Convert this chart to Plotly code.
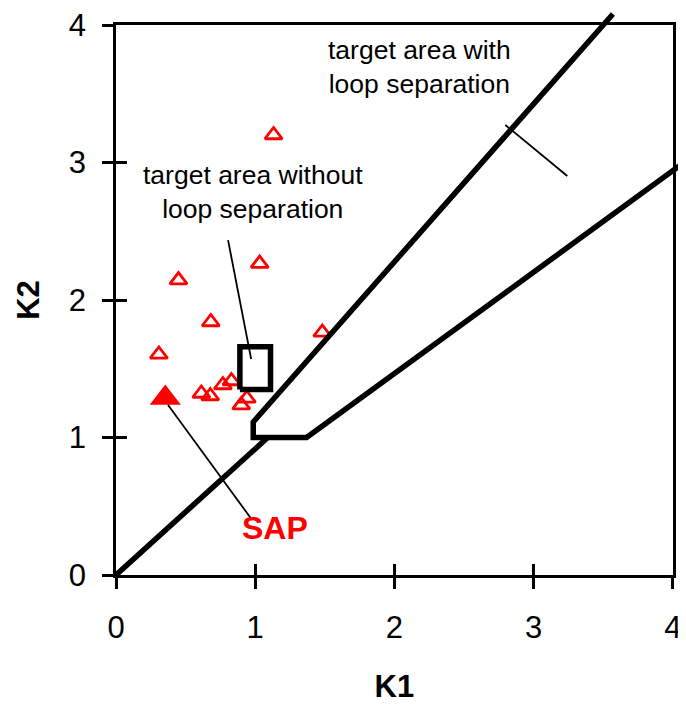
import plotly.graph_objects as go

# ---- data ----
k1_points = [0.449, 1.032, 0.681, 0.308, 1.482, 0.613, 0.677, 0.768, 0.829, 0.940, 0.900, 1.132]
k2_points = [2.145, 2.265, 1.840, 1.604, 1.764, 1.320, 1.302, 1.382, 1.411, 1.284, 1.236, 3.200]

sap_k1 = [0.354]
sap_k2 = [1.287]

# boundary of the target area with loop separation
wedge_k1 = [3.57, 0.986, 0.986, 1.369, 4.095]
wedge_k2 = [4.08, 1.113, 1.000, 1.000, 3.010]

# diagonal from the origin
diag_k1 = [0.0, 1.09]
diag_k2 = [0.0, 1.0]

# target area without loop separation
rect_k1 = [0.89, 1.11, 1.11, 0.89, 0.89]
rect_k2 = [1.35, 1.35, 1.66, 1.66, 1.35]

# leader lines
lead_with_k1 = [2.797, 3.242]
lead_with_k2 = [3.273, 2.902]
lead_without_k1 = [0.805, 0.971]
lead_without_k2 = [2.436, 1.570]
lead_sap_k1 = [0.374, 0.978]
lead_sap_k2 = [1.236, 0.400]

tick_vals = [0, 1, 2, 3, 4]
tick_text = ["0", "1", "2", "3", "4"]

# ---- geometry (page body has an 8 px margin) ----
W, H = 678, 696
ML, MR, MT, MB = 108, 0, 0, 129
plot_w = W - ML - MR
plot_h = H - MT - MB
x4_px = 664.8 - ML          # pixel of K1=4 inside paper
y4_px = 567 - 17            # pixel height of K2=4
dx = x4_px / plot_w
dy = y4_px / plot_h
x2_max = 4 / dx
y2_max = 4 / dy

FONT = "Liberation Sans, Arial, Helvetica, sans-serif"

fig = go.Figure()

thick = dict(color="black", width=5.5)
thin = dict(color="black", width=1.8)

fig.add_trace(go.Scatter(x=diag_k1, y=diag_k2, mode="lines", line=thick,
                         xaxis="x2", yaxis="y2", hoverinfo="skip", showlegend=False))
fig.add_trace(go.Scatter(x=wedge_k1, y=wedge_k2, mode="lines", line=thick,
                         xaxis="x2", yaxis="y2", hoverinfo="skip", showlegend=False))
fig.add_trace(go.Scatter(x=rect_k1, y=rect_k2, mode="lines", line=thick,
                         xaxis="x2", yaxis="y2", hoverinfo="skip", showlegend=False))
for lx, ly in [(lead_with_k1, lead_with_k2), (lead_without_k1, lead_without_k2),
               (lead_sap_k1, lead_sap_k2)]:
    fig.add_trace(go.Scatter(x=lx, y=ly, mode="lines", line=thin,
                             xaxis="x2", yaxis="y2", hoverinfo="skip", showlegend=False))

fig.add_trace(go.Scatter(x=k1_points, y=k2_points, mode="markers",
                         marker=dict(symbol="triangle-up-open", size=15, color="red",
                                     line=dict(color="red", width=2.8)),
                         xaxis="x3", yaxis="y3", showlegend=False))
fig.add_trace(go.Scatter(x=sap_k1, y=sap_k2, mode="markers",
                         marker=dict(symbol="triangle-up", size=27, color="red",
                                     line=dict(width=0)),
                         xaxis="x3", yaxis="y3", showlegend=False))

axis_common = dict(range=[0, 4], tickvals=tick_vals, ticktext=tick_text,
                   showgrid=False, zeroline=False, tickwidth=2.5, tickcolor="black",
                   ticklen=11)

fig.update_layout(
    width=W, height=H,
    margin=dict(l=ML, r=MR, t=MT, b=MB, pad=0),
    paper_bgcolor="white", plot_bgcolor="rgba(0,0,0,0)",
    font=dict(family=FONT, color="black"),
    xaxis=dict(**axis_common, domain=[0, dx], anchor="y", ticks="outside",
               showline=True, linecolor="black", linewidth=2.5, mirror=True,
               tickfont=dict(size=31, family=FONT), ticklabelstandoff=12,
               ticklabeloverflow="allow",
               title=dict(text="K1", font=dict(size=31, family=FONT, weight="bold"),
                          standoff=39),
               automargin=False),
    yaxis=dict(**axis_common, domain=[0, dy], anchor="x", ticks="outside",
               showline=True, linecolor="black", linewidth=2.5, mirror=True,
               tickfont=dict(size=31, family=FONT), ticklabelstandoff=10,
               ticklabeloverflow="allow",
               title=dict(text="K2", font=dict(size=31, family=FONT, weight="bold"),
                          standoff=20),
               automargin=False),
    xaxis3=dict(**axis_common, overlaying="x", anchor="y", side="bottom",
                ticks="inside", showticklabels=False, showline=False),
    yaxis3=dict(**axis_common, overlaying="y", anchor="x", side="left",
                ticks="inside", showticklabels=False, showline=False),
    xaxis2=dict(range=[0, x2_max], domain=[0, 1], anchor="y2", visible=False,
                showgrid=False, zeroline=False),
    yaxis2=dict(range=[0, y2_max], domain=[0, 1], anchor="x2", visible=False,
                showgrid=False, zeroline=False),
)

fig.add_annotation(x=2.182, y=3.695, xref="x", yref="y", showarrow=False,
                   text="target area with<br>loop separation",
                   font=dict(size=26.5, family=FONT, color="black"))
fig.add_annotation(x=0.981, y=2.785, xref="x", yref="y", showarrow=False,
                   text="target area without<br>loop separation",
                   font=dict(size=26.5, family=FONT, color="black"))
fig.add_annotation(x=1.139, y=0.342, xref="x", yref="y", showarrow=False,
                   text="SAP",
                   font=dict(size=32, family=FONT, color="red", weight="bold"))

fig.write_html("out.html")
